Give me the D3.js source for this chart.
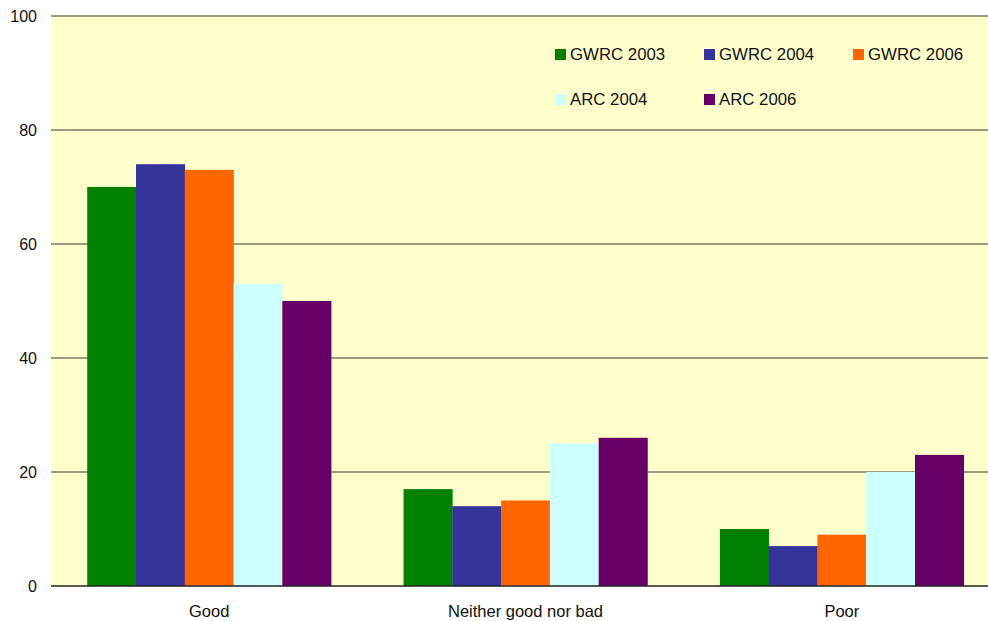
<!DOCTYPE html>
<html><head><meta charset="utf-8">
<script src="https://cdn.jsdelivr.net/npm/d3@7"></script>
<style>html,body{margin:0;padding:0;background:#fff;overflow:hidden}</style>
</head><body>
<svg id="c" width="988" height="621"></svg>
<script>
const categories = ["Good", "Neither good nor bad", "Poor"];
const seriesNames = ["GWRC 2003", "GWRC 2004", "GWRC 2006", "ARC 2004", "ARC 2006"];
const seriesColors = ["#008000", "#333399", "#FF6600", "#CCFFFF", "#660066"];
const gwrc2003 = [70, 17, 10];
const gwrc2004 = [74, 14, 7];
const gwrc2006 = [73, 15, 9];
const arc2004 = [53, 25, 20];
const arc2006 = [50, 26, 23];
const yTicks = [0, 20, 40, 60, 80, 100];
const seriesValues = [gwrc2003, gwrc2004, gwrc2006, arc2004, arc2006];

const svg = d3.select("#c");
const plotLeft = 51, plotTop = 16, plotBottom = 586, plotRight = 1000;
const font = "'Liberation Sans', Arial, sans-serif";

const x0 = d3.scaleBand().domain(categories).range([plotLeft, plotRight]).paddingInner(0.229).paddingOuter(0.1145);
const x1 = d3.scaleBand().domain(seriesNames).range([0, x0.bandwidth()]);
const y = d3.scaleLinear().domain([0, 100]).range([plotBottom, plotTop]);

svg.append("rect").attr("x", plotLeft).attr("y", plotTop).attr("width", 988 - plotLeft).attr("height", plotBottom - plotTop).attr("fill", "#FFFFCC");

// gridlines
svg.append("g").selectAll("line").data(yTicks.filter(d => d > 0)).join("line")
  .attr("x1", plotLeft).attr("x2", 988).attr("y1", d => y(d)).attr("y2", d => y(d))
  .attr("stroke", "#7a7a64").attr("stroke-width", 1.5);

// y tick labels
svg.append("g").selectAll("text").data(yTicks).join("text")
  .attr("x", 37).attr("y", d => y(d)).attr("dy", "0.36em").attr("text-anchor", "end")
  .attr("font-family", font).attr("font-size", 16).attr("fill", "#111").text(d => d);

// bars
const rows = categories.map((c, i) => ({cat: c, vals: seriesNames.map((s, j) => ({s, v: seriesValues[j][i], color: seriesColors[j]}))}));
const g = svg.append("g").selectAll("g").data(rows).join("g").attr("transform", d => `translate(${x0(d.cat)},0)`);
g.selectAll("rect").data(d => d.vals).join("rect")
  .attr("x", d => x1(d.s)).attr("width", x1.bandwidth() + 0.3)
  .attr("y", d => y(d.v)).attr("height", d => plotBottom - y(d.v)).attr("fill", d => d.color);

// x axis line
svg.append("line").attr("x1", plotLeft).attr("x2", 988).attr("y1", plotBottom).attr("y2", plotBottom)
  .attr("stroke", "#222").attr("stroke-width", 1.5);

// category labels
svg.append("g").selectAll("text").data(categories).join("text")
  .attr("x", d => x0(d) + x0.bandwidth() / 2).attr("y", 617).attr("text-anchor", "middle")
  .attr("font-family", font).attr("font-size", 16.5).attr("fill", "#111").text(d => d);

// legend
const leg = svg.append("g").selectAll("g").data(seriesNames).join("g")
  .attr("transform", (d, i) => `translate(${555 + (i % 3) * 149},${49 + Math.floor(i / 3) * 45})`);
leg.append("rect").attr("width", 11).attr("height", 11).attr("fill", (d, i) => seriesColors[i]);
leg.append("text").attr("x", 15).attr("y", 10.5).attr("font-family", font).attr("font-size", 16.8)
  .attr("fill", "#111").text(d => d);
</script>
</body></html>
